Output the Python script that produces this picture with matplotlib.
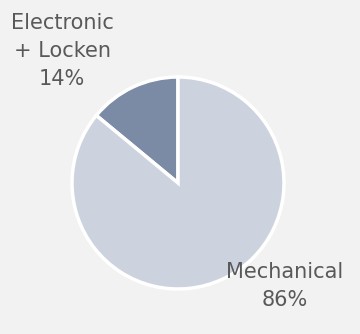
import matplotlib.pyplot as plt

# share of units by type
labels = ['Electronic\n+ Locken', 'Mechanical']
shares = [14, 86]
colors = ['#7b8ba6', '#cdd3de']

bg = '#f2f2f2'
txt = '#595959'

fig = plt.figure(figsize=(3.6, 3.34), dpi=100, facecolor=bg)
ax = fig.add_axes([0, 0, 1, 1])
ax.set_facecolor(bg)

ax.pie(shares, colors=colors, startangle=90, counterclock=True,
       center=(178, 151), radius=106,
       wedgeprops=dict(edgecolor='white', linewidth=2.5))

# category labels outside the pie
label_pos = [(62, 283), (285, 48)]
for lab, val, (x, y) in zip(labels, shares, label_pos):
    ax.text(x, y, '%s\n%d%%' % (lab, val), ha='center', va='center',
            fontsize=15, color=txt, family=['DejaVu Sans'],
            linespacing=1.5)

ax.set_xlim(0, 360)
ax.set_ylim(0, 334)
ax.set_aspect('equal')
ax.axis('off')

fig.savefig('out.png', dpi=100, facecolor=bg)
